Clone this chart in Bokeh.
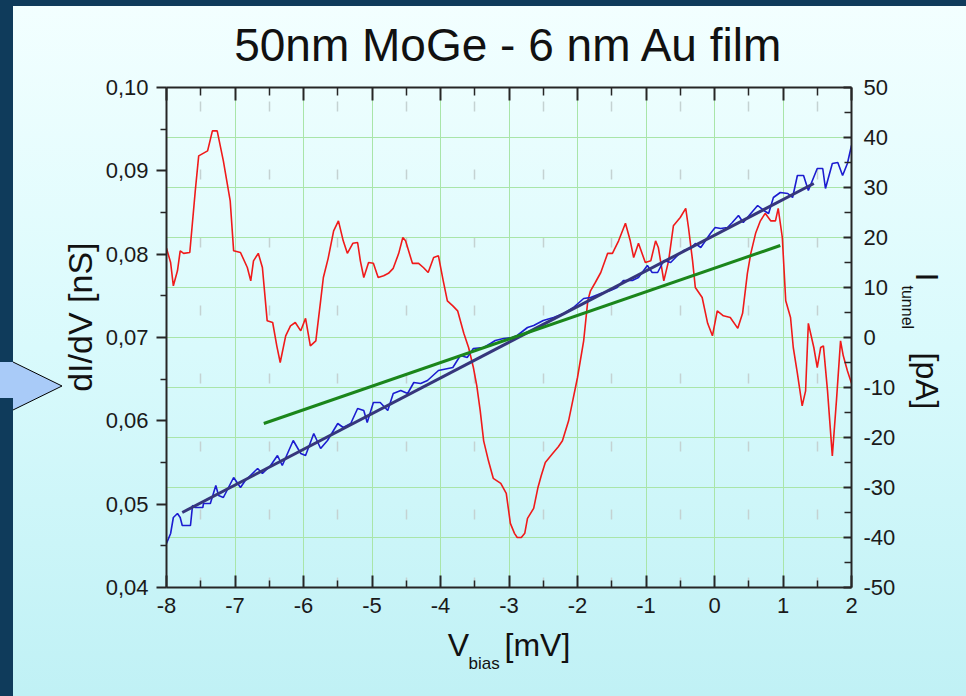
import urllib.parse
from bokeh.plotting import figure
from bokeh.models import (Range1d, LinearAxis, FixedTicker, CustomJSTickFormatter,
                          Grid, Title)
from bokeh.embed import file_html
from bokeh.resources import INLINE

# ---------------- data ----------------
title_text = "50nm MoGe - 6 nm Au film"
x_ticks = [-8, -7, -6, -5, -4, -3, -2, -1, 0, 1, 2]
x_minor = [-7.5, -6.5, -5.5, -4.5, -3.5, -2.5, -1.5, -0.5, 0.5, 1.5]
left_ticks = [0.04, 0.05, 0.06, 0.07, 0.08, 0.09, 0.10]
left_minor = [0.045, 0.055, 0.065, 0.075, 0.085, 0.095]
right_ticks = [-50, -40, -30, -20, -10, 0, 10, 20, 30, 40, 50]
right_minor = [-45, -35, -25, -15, -5, 5, 15, 25, 35, 45]

# dI/dV [nS] (left axis)
red_x = [-8.00, -7.94, -7.90, -7.84, -7.80, -7.75, -7.66, -7.58, -7.53, -7.40,
         -7.33, -7.26, -7.17, -7.07, -7.02, -6.92, -6.82, -6.77, -6.73, -6.66,
         -6.60, -6.53, -6.45, -6.39, -6.34, -6.26, -6.19, -6.12, -6.04, -5.97,
         -5.90, -5.82, -5.75, -5.71, -5.64, -5.56, -5.49, -5.42, -5.36, -5.28,
         -5.21, -5.17, -5.12, -5.05, -4.98, -4.91, -4.83, -4.76, -4.69, -4.61,
         -4.55, -4.51, -4.41, -4.32, -4.25, -4.18, -4.10, -4.03, -3.96, -3.90,
         -3.82, -3.75, -3.66, -3.59, -3.52, -3.47, -3.42, -3.37, -3.30, -3.23,
         -3.12, -3.04, -2.98, -2.92, -2.88, -2.82, -2.77, -2.73, -2.64, -2.58,
         -2.53, -2.47, -2.36, -2.28, -2.22, -2.13, -2.07, -2.00, -1.91, -1.85,
         -1.81, -1.74, -1.66, -1.56, -1.49, -1.40, -1.30, -1.23, -1.18, -1.11,
         -1.01, -0.93, -0.86, -0.82, -0.74, -0.67, -0.60, -0.50, -0.42, -0.38,
         -0.32, -0.28, -0.18, -0.10, -0.03, 0.04, 0.13, 0.23, 0.34, 0.41,
         0.48, 0.53, 0.60, 0.67, 0.74, 0.82, 0.89, 0.93, 0.99, 1.04,
         1.11, 1.15, 1.21, 1.28, 1.33, 1.37, 1.45, 1.50, 1.55, 1.59,
         1.65, 1.72, 1.78, 1.84, 1.88, 1.94, 2.00]
red_didv = [0.0807, 0.0790, 0.0762, 0.0780, 0.0804, 0.0801, 0.0802, 0.0876, 0.0918, 0.0924,
            0.0948, 0.0948, 0.0912, 0.0864, 0.0804, 0.0802, 0.0784, 0.0768, 0.0792, 0.0801,
            0.0784, 0.0720, 0.0718, 0.0690, 0.0670, 0.0702, 0.0714, 0.0718, 0.0708, 0.0723,
            0.0690, 0.0696, 0.0744, 0.0772, 0.0795, 0.0828, 0.0840, 0.0816, 0.0801, 0.0813,
            0.0814, 0.0792, 0.0772, 0.0790, 0.0789, 0.0772, 0.0774, 0.0777, 0.0783, 0.0801,
            0.0820, 0.0816, 0.0789, 0.0789, 0.0784, 0.0778, 0.0796, 0.0798, 0.0768, 0.0744,
            0.0738, 0.0732, 0.0705, 0.0688, 0.0664, 0.0642, 0.0612, 0.0576, 0.0552, 0.0531,
            0.0525, 0.0513, 0.0477, 0.0465, 0.0460, 0.0460, 0.0465, 0.0483, 0.0495, 0.0519,
            0.0534, 0.0550, 0.0561, 0.0569, 0.0576, 0.0600, 0.0624, 0.0652, 0.0696, 0.0744,
            0.0756, 0.0766, 0.0778, 0.0801, 0.0801, 0.0816, 0.0837, 0.0816, 0.0796, 0.0813,
            0.0790, 0.0792, 0.0816, 0.0808, 0.0768, 0.0792, 0.0834, 0.0844, 0.0855, 0.0832,
            0.0792, 0.0760, 0.0748, 0.0717, 0.0702, 0.0732, 0.0726, 0.0724, 0.0711, 0.0729,
            0.0777, 0.0801, 0.0825, 0.0840, 0.0849, 0.0840, 0.0840, 0.0855, 0.0820, 0.0744,
            0.0724, 0.0688, 0.0657, 0.0618, 0.0636, 0.0717, 0.0688, 0.0664, 0.0688, 0.0690,
            0.0636, 0.0558, 0.0624, 0.0696, 0.0678, 0.0660, 0.0645]

# I_tunnel [pA] (right axis)
blue_x = [-8.00, -7.94, -7.90, -7.84, -7.80, -7.77, -7.65, -7.62, -7.58, -7.47,
          -7.46, -7.36, -7.28, -7.24, -7.17, -7.02, -6.92, -6.85, -6.67, -6.60,
          -6.48, -6.38, -6.31, -6.15, -6.04, -5.97, -5.85, -5.75, -5.65, -5.50,
          -5.42, -5.31, -5.21, -5.12, -5.07, -4.98, -4.88, -4.77, -4.69, -4.58,
          -4.48, -4.39, -4.29, -4.19, -4.03, -3.82, -3.71, -3.61, -3.52, -3.37,
          -3.27, -3.20, -3.08, -2.95, -2.88, -2.73, -2.64, -2.50, -2.35, -2.20,
          -2.06, -1.91, -1.81, -1.66, -1.52, -1.42, -1.33, -1.20, -1.11, -0.98,
          -0.91, -0.83, -0.74, -0.64, -0.54, -0.45, -0.35, -0.28, -0.20, -0.13,
          -0.06, 0.01, 0.09, 0.19, 0.26, 0.35, 0.42, 0.53, 0.63, 0.72,
          0.79, 0.86, 0.96, 1.07, 1.14, 1.21, 1.30, 1.37, 1.50, 1.58,
          1.62, 1.72, 1.80, 1.87, 1.94, 2.00]
blue_pa = [-41.2, -39.2, -36.0, -35.2, -36.0, -37.6, -37.6, -33.6, -34.0, -34.0,
           -33.2, -33.2, -29.6, -31.6, -32.0, -28.0, -30.0, -28.6, -26.2, -27.2,
           -25.6, -23.6, -25.6, -20.6, -23.2, -23.6, -19.2, -22.2, -20.6, -17.2,
           -18.0, -17.2, -14.2, -14.6, -17.0, -13.0, -13.0, -14.6, -11.2, -10.6,
           -11.2, -9.0, -9.2, -8.6, -6.6, -6.0, -3.6, -4.0, -2.2, -2.0,
           -1.2, -0.6, -0.2, 0.0, 0.4, 2.0, 2.4, 3.4, 4.0, 4.8,
           6.0, 7.8, 8.0, 8.8, 9.4, 10.0, 11.4, 11.4, 12.0, 14.4,
           13.0, 13.0, 15.4, 15.0, 16.4, 17.4, 17.8, 18.8, 18.0, 19.4,
           20.8, 22.0, 21.8, 22.0, 23.0, 24.4, 23.0, 24.8, 26.4, 25.4,
           24.8, 28.0, 29.0, 28.8, 28.0, 32.4, 32.4, 29.4, 33.8, 33.8,
           29.8, 34.8, 35.0, 32.4, 34.8, 38.4]

# straight lines (right axis)
fit_x = [-7.77, 1.45]
fit_pa = [-35.0, 30.8]
green_x = [-6.58, 0.96]
green_pa = [-17.2, 18.4]

# ---------------- figure ----------------
FONT = "Liberation Sans"
AX = "#262626"
TXT = "#111111"
NB = "\u00a0"
W, H = 966, 696
FL, FR, FT, FB = 166, 851, 87, 587   # frame edges on the canvas

p = figure(width=W, height=H, x_range=Range1d(-8, 2), y_range=Range1d(0.04, 0.10),
           output_backend="svg", toolbar_location=None,
           min_border_left=FL, min_border_right=W - FR,
           min_border_top=FT, min_border_bottom=H - FB)
p.extra_y_ranges = {"pa": Range1d(-50, 50)}
p.border_fill_alpha = 0
p.background_fill_alpha = 0
p.outline_line_color = None

# page background (gradient panel, dark strips, pointer arrow)
bg_svg = (
    "<svg xmlns='http://www.w3.org/2000/svg' width='966' height='696'>"
    "<defs><linearGradient id='g' x1='0' y1='0' x2='0' y2='1'>"
    "<stop offset='0' stop-color='#f3ffff'/><stop offset='0.5' stop-color='#d9fafc'/>"
    "<stop offset='1' stop-color='#c0f1f5'/></linearGradient></defs>"
    "<rect width='966' height='696' fill='url(#g)'/>"
    "<rect width='966' height='6' fill='#0f3b5b'/>"
    "<rect width='13' height='696' fill='#0f3b5b'/>"
    "<polygon points='0,362 13,362 62,386 13,410 13,398 0,398' fill='#a9cbf8'/>"
    "<polyline points='13,362 62,386 13,410' fill='none' stroke='#000' stroke-width='1'/>"
    "</svg>"
)
p.styles = {"background-image": "url(\"data:image/svg+xml," + urllib.parse.quote(bg_svg) + "\")",
            "background-repeat": "no-repeat"}

p.title.text = title_text
p.title.text_font = FONT
p.title.text_font_size = "46px"
p.title.text_font_style = "normal"
p.title.text_color = TXT
p.title.align = "center"
p.title.standoff = 33


def style_axis(ax):
    ax.axis_line_color = AX
    ax.axis_line_width = 2
    ax.major_tick_line_color = AX
    ax.major_tick_line_width = 2
    ax.minor_tick_line_color = AX
    ax.minor_tick_line_width = 1.5
    ax.major_label_text_font = FONT
    ax.major_label_text_font_size = "22px"
    ax.major_label_text_color = "#1a1a1a"
    ax.axis_label_text_font = FONT
    ax.axis_label_text_font_style = "normal"
    ax.axis_label_text_color = TXT


int_fmt = CustomJSTickFormatter(code="return tick.toFixed(0);")

# bottom axis
xb = p.xaxis[0]
xb.ticker = FixedTicker(ticks=x_ticks, minor_ticks=x_minor)
xb.formatter = int_fmt
style_axis(xb)
xb.major_tick_in, xb.major_tick_out = 12, 0
xb.minor_tick_in, xb.minor_tick_out = 7, 0
xb.major_label_standoff = 10
xb.axis_label = "V" + NB * 4 + "[mV]"
xb.axis_label_text_font_size = "32px"
xb.axis_label_standoff = 11

# left axis
yl = p.yaxis[0]
yl.ticker = FixedTicker(ticks=left_ticks, minor_ticks=left_minor)
yl.formatter = CustomJSTickFormatter(code="return tick.toFixed(2).replace('.', ',');")
style_axis(yl)
yl.major_tick_in, yl.major_tick_out = 0, 10
yl.minor_tick_in, yl.minor_tick_out = 0, 6
yl.major_label_standoff = 8

# top axis (labels not drawn; they only reserve room under the title)
xt = LinearAxis(ticker=FixedTicker(ticks=x_ticks, minor_ticks=x_minor), formatter=int_fmt)
style_axis(xt)
xt.major_tick_in, xt.major_tick_out = 13, 0
xt.minor_tick_in, xt.minor_tick_out = 8, 0
xt.major_label_text_font_size = "12px"
xt.major_label_text_color = None
xt.major_label_standoff = 0
p.add_layout(xt, "above")

# right axis
yr = LinearAxis(y_range_name="pa", ticker=FixedTicker(ticks=right_ticks, minor_ticks=right_minor),
                formatter=int_fmt)
style_axis(yr)
yr.major_tick_in, yr.major_tick_out = 8, 0
yr.minor_tick_in, yr.minor_tick_out = 7, 0
yr.major_label_standoff = 12
p.add_layout(yr, "right")

# axis titles placed in the side panels
p.add_layout(Title(text="dI/dV [nS]", align="right", offset=155, text_font=FONT,
                   text_font_size="34px", text_font_style="normal", text_color=TXT,
                   standoff=7), "left")
p.add_layout(Title(text="bias", align="left", offset=302, text_font=FONT,
                   text_font_size="17px", text_font_style="normal", text_color=TXT,
                   vertical_align="top", standoff=-24), "below")
p.add_layout(Title(text="tunnel", align="left", offset=198, text_font=FONT,
                   text_font_size="16px", text_font_style="normal", text_color=TXT,
                   standoff=0), "right")
p.add_layout(Title(text="I" + NB * 8 + "[pA]", align="left", offset=185, text_font=FONT,
                   text_font_size="32px", text_font_style="normal", text_color=TXT,
                   standoff=-18), "right")

# grids
p.ygrid.visible = False
p.xgrid.ticker = xb.ticker
p.xgrid.grid_line_color = "#a9e5a9"
p.xgrid.grid_line_width = 1
p.xgrid.minor_grid_line_color = "#c4d2d2"
p.xgrid.minor_grid_line_width = 1.5
p.xgrid.minor_grid_line_dash = "10 58"
hgrid = Grid(dimension=1, ticker=FixedTicker(ticks=right_ticks), y_range_name="pa",
             grid_line_color="#a9e5a9", grid_line_width=1)
p.add_layout(hgrid)

# data
p.line(red_x, red_didv, line_color="#f01a1a", line_width=1.6)
p.line(blue_x, blue_pa, y_range_name="pa", line_color="#1c1cd0", line_width=1.6)
p.line(fit_x, fit_pa, y_range_name="pa", line_color="#36367c", line_width=3)
p.line(green_x, green_pa, y_range_name="pa", line_color="#1b861b", line_width=3)

open("out.html", "w").write(file_html(p, INLINE))
